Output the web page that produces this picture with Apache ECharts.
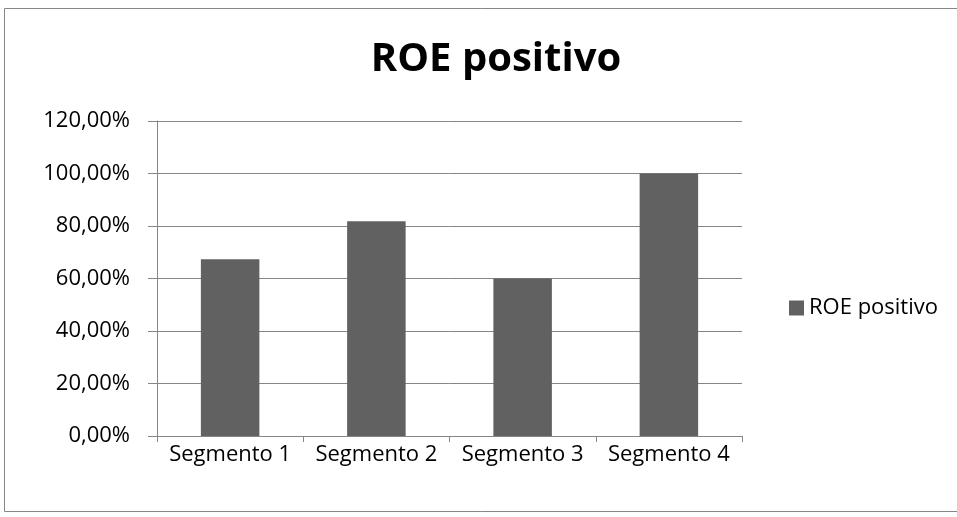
<!DOCTYPE html>
<html>
<head>
<meta charset="utf-8">
<script src="https://cdn.jsdelivr.net/npm/echarts@6/dist/echarts.min.js"></script>
<style>
  html, body { margin: 0; padding: 0; background: #fff; }
  #chart { width: 957px; height: 517px; }
</style>
</head>
<body>
<div id="chart"></div>
<script>
var categories = ['Segmento 1', 'Segmento 2', 'Segmento 3', 'Segmento 4'];
var roeValues = [0.673, 0.818, 0.60, 1.00];
var seriesName = 'ROE positivo';

var chart = echarts.init(document.getElementById('chart'));

function fmtPct(v) {
    return (v * 100).toFixed(2).replace('.', ',') + '%';
}

var option = {
    animation: false,
    textStyle: { fontFamily: 'Open Sans, sans-serif' },
    title: {
        text: 'ROE positivo',
        left: 491,
        top: 35,
        textAlign: 'center',
        textStyle: { fontSize: 40, fontWeight: 'bold', color: '#000' }
    },
    legend: {
        data: [seriesName],
        orient: 'vertical',
        left: 784,
        top: 292,
        icon: 'rect',
        itemWidth: 15,
        itemHeight: 15,
        textStyle: { fontSize: 22, color: '#000' }
    },
    grid: {
        left: 157,
        right: 957 - 742,
        top: 121,
        bottom: 517 - 436,
        containLabel: false
    },
    xAxis: {
        type: 'category',
        data: categories,
        axisLine: { lineStyle: { color: '#868686', width: 1 } },
        axisTick: { show: true, length: 6, alignWithLabel: false, lineStyle: { color: '#868686' } },
        axisLabel: { fontSize: 22, color: '#000', margin: 8, interval: 0, hideOverlap: false }
    },
    yAxis: {
        type: 'value',
        min: 0,
        max: 1.2,
        interval: 0.2,
        axisLine: { show: true, lineStyle: { color: '#868686', width: 1 } },
        axisTick: { show: true, length: 9, lineStyle: { color: '#868686' } },
        axisLabel: { fontSize: 22, color: '#000', margin: 27, formatter: fmtPct },
        splitLine: { lineStyle: { color: '#868686', width: 1 } }
    },
    series: [{
        name: seriesName,
        type: 'bar',
        data: roeValues,
        barCategoryGap: '60%',
        itemStyle: { color: '#616161' }
    }],
    graphic: [{
        type: 'rect',
        shape: { x: 4.5, y: 8.5, width: 960, height: 503 },
        style: { fill: 'none', stroke: '#868686', lineWidth: 1 },
        silent: true
    }]
};

chart.setOption(option);
</script>
</body>
</html>
